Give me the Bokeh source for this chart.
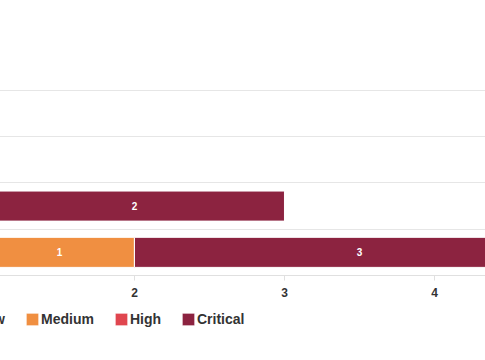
import numpy as np
from bokeh.plotting import figure
from bokeh.models import (ColumnDataSource, Range1d, FixedTicker, Legend, LegendItem,
                          LabelSet, Grid)
from bokeh.core.properties import value
from bokeh.embed import file_html
from bokeh.resources import INLINE

# ---- data (bottom row first) ----
categories = ["Project D", "Project C", "Project B", "Project A"]
series = ["Low", "Medium", "High", "Critical"]
low = [1, 1, 0, 0]
medium = [1, 0, 0, 0]
high = [0, 0, 0, 0]
critical = [3, 2, 0, 0]
colors = ["#F6C445", "#F08F41", "#E0464F", "#8C2340"]
x_ticks = [2, 3, 4]

FONT = "Liberation Sans"
OFF = 60            # part of the plot lying left of the window
PX_PER_UNIT = 150.0
X_LEFT = 1.107      # value at the window's left edge
X_RIGHT = 4.34      # value at the window's right edge
ROW_PX = 46.25      # height of one category band
TOP_PAD = 0.02
FRAME_TOP = 89
AXIS_Y = 275
FRAME_BOTTOM = 330

n = len(categories)
below_units = (FRAME_BOTTOM - AXIS_Y) / ROW_PX

p = figure(frame_width=485 + OFF, frame_height=FRAME_BOTTOM - FRAME_TOP,
           output_backend="svg", toolbar_location=None,
           x_range=Range1d(X_LEFT - OFF / PX_PER_UNIT, X_RIGHT),
           y_range=Range1d(-below_units, n + TOP_PAD),
           y_axis_location=None,
           min_border_left=0, min_border_right=0, min_border_top=FRAME_TOP, min_border_bottom=0)
p.styles = {"margin-left": f"-{OFF}px"}
p.outline_line_color = None
p.background_fill_color = "white"
p.xgrid.visible = False
p.ygrid.visible = False

grid = Grid(dimension=1, ticker=FixedTicker(ticks=list(range(n + 1))),
            grid_line_color="#E6E6E6", grid_line_width=1)
p.add_layout(grid)

ax = p.xaxis[0]
ax.fixed_location = 0
ax.ticker = FixedTicker(ticks=x_ticks)
ax.axis_line_color = "#E0E0E0"
ax.major_tick_line_color = "#E0E0E0"
ax.major_tick_out = 5
ax.major_tick_in = 0
ax.minor_tick_line_color = None
ax.major_label_standoff = 8
ax.major_label_text_font = FONT
ax.major_label_text_font_style = "bold"
ax.major_label_text_font_size = "12px"
ax.major_label_text_color = "#333333"

values = [low, medium, high, critical]
ys = np.arange(n) + 0.5
base = np.zeros(n)
items = []
lab_x, lab_y, lab_t = [], [], []
for name, vals, col in zip(series, values, colors):
    v = np.array(vals, dtype=float)
    src = ColumnDataSource(dict(y=ys, left=base.copy(), right=base + v))
    r = p.hbar(y="y", left="left", right="right", height=0.65, source=src,
               fill_color=col, line_color="white", line_width=1)
    items.append(LegendItem(label=value(name), renderers=[r]))
    for i in range(len(v)):
        if v[i] > 0:
            lab_x.append(base[i] + v[i] / 2)
            lab_y.append(ys[i])
            lab_t.append(str(int(v[i])))
    base = base + v

labels = LabelSet(x="x", y="y", text="t",
                  source=ColumnDataSource(dict(x=lab_x, y=lab_y, t=lab_t)),
                  text_align="center", text_baseline="middle", text_color="white",
                  text_font=value(FONT), text_font_style="bold", text_font_size="10px")
p.add_layout(labels)

legend = Legend(items=items, orientation="horizontal", location=(OFF - 40, 3),
                spacing=19, label_standoff=1, glyph_width=16, glyph_height=16,
                label_text_font=FONT, label_text_font_style="bold",
                label_text_font_size="14px", label_text_color="#333333",
                border_line_color=None, background_fill_alpha=0, padding=0, margin=0)
p.add_layout(legend)

open("out.html", "w").write(file_html(p, INLINE))
